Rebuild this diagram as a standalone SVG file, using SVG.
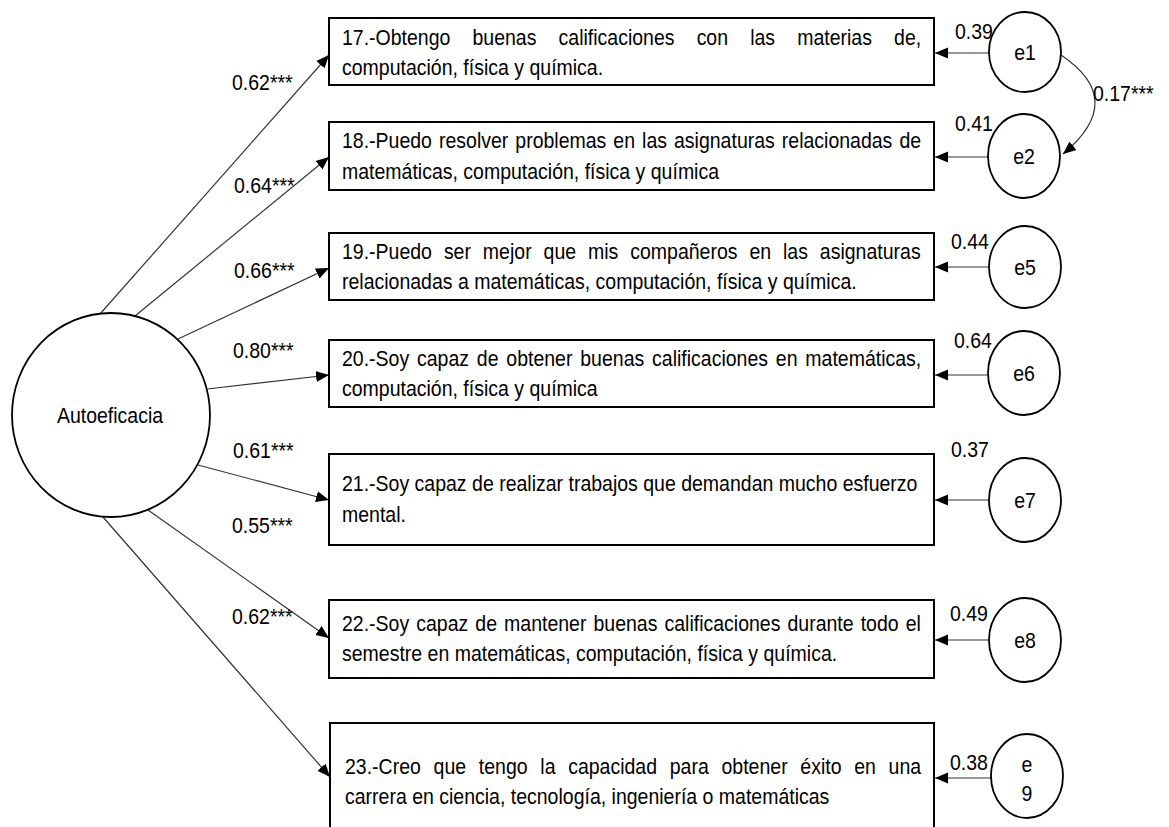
<svg xmlns="http://www.w3.org/2000/svg" width="1169" height="827" viewBox="0 0 1169 827">
<style>
text{font-family:"Liberation Sans",Arial,sans-serif;font-size:22.5px;fill:#000}
.box{fill:#fff;stroke:#000;stroke-width:2}
.lat{fill:#fff;stroke:#000;stroke-width:1.8}
.c{text-anchor:middle}
.con path,.con line{fill:none;stroke:#333;stroke-width:1.2}
</style>
<defs>
<marker id="ah" markerUnits="userSpaceOnUse" markerWidth="14" markerHeight="12" refX="13" refY="6" orient="auto">
<path d="M0,0.5 L13,6 L0,11.5 z" fill="#000"/>
</marker>
</defs>
<rect width="1169" height="827" fill="#fff"/>

<g id="connectors" class="con">
<line x1="100" y1="314" x2="329" y2="55" marker-end="url(#ah)"/>
<line x1="135" y1="316" x2="329" y2="157" marker-end="url(#ah)"/>
<line x1="178" y1="339" x2="329" y2="268" marker-end="url(#ah)"/>
<line x1="207" y1="389" x2="329" y2="375" marker-end="url(#ah)"/>
<line x1="198" y1="465" x2="329" y2="500" marker-end="url(#ah)"/>
<line x1="148" y1="510" x2="329" y2="638" marker-end="url(#ah)"/>
<line x1="103" y1="517" x2="330" y2="777" marker-end="url(#ah)"/>
<line x1="989" y1="53" x2="935" y2="53" marker-end="url(#ah)"/>
<line x1="988" y1="157" x2="935" y2="157" marker-end="url(#ah)"/>
<line x1="989" y1="267" x2="935" y2="267" marker-end="url(#ah)"/>
<line x1="988" y1="375" x2="935" y2="375" marker-end="url(#ah)"/>
<line x1="989" y1="500" x2="935" y2="500" marker-end="url(#ah)"/>
<line x1="989" y1="640" x2="935" y2="640" marker-end="url(#ah)"/>
<line x1="991" y1="778" x2="935" y2="778" marker-end="url(#ah)"/>
<path d="M1061,55 Q1128,100 1063,154" marker-end="url(#ah)"/>
<text transform="translate(1093,101) scale(0.8667,1)">0.17***</text>
<text transform="translate(232,90) scale(0.8667,1)">0.62***</text>
<text transform="translate(234,193) scale(0.8667,1)">0.64***</text>
<text transform="translate(234,278) scale(0.8667,1)">0.66***</text>
<text transform="translate(233,358) scale(0.8667,1)">0.80***</text>
<text transform="translate(233,458) scale(0.8667,1)">0.61***</text>
<text transform="translate(232,533) scale(0.8667,1)">0.55***</text>
<text transform="translate(232,624) scale(0.8667,1)">0.62***</text>
<text transform="translate(955,39) scale(0.8667,1)">0.39</text>
<text transform="translate(955,131) scale(0.8667,1)">0.41</text>
<text transform="translate(951,249) scale(0.8667,1)">0.44</text>
<text transform="translate(954,348) scale(0.8667,1)">0.64</text>
<text transform="translate(951,457) scale(0.8667,1)">0.37</text>
<text transform="translate(950,621) scale(0.8667,1)">0.49</text>
<text transform="translate(950,770) scale(0.8667,1)">0.38</text>
</g>

<g id="autoeficacia">
<ellipse class="lat" cx="111" cy="415" rx="99" ry="102"/>
<text class="c" transform="translate(110,423) scale(0.8667,1)">Autoeficacia</text>
</g>

<g id="item17">
<rect class="box" x="329" y="18" width="605" height="67"/>
<g transform="translate(342,0) scale(0.8667,1)">
<text x="0" y="45" style="word-spacing:19.27px">17.-Obtengo buenas calificaciones con las materias de,</text>
<text x="0" y="75">computación, física y química.</text>
</g>
</g>
<g id="item18">
<rect class="box" x="329" y="122" width="605" height="68"/>
<g transform="translate(342,0) scale(0.8667,1)">
<text x="0" y="148" style="word-spacing:1.85px">18.-Puedo resolver problemas en las asignaturas relacionadas de</text>
<text x="0" y="179">matemáticas, computación, física y química</text>
</g>
</g>
<g id="item19">
<rect class="box" x="329" y="233" width="605" height="67"/>
<g transform="translate(342,0) scale(0.8667,1)">
<text x="0" y="259" style="word-spacing:7.5px">19.-Puedo ser mejor que mis compañeros en las asignaturas</text>
<text x="0" y="289">relacionadas a matemáticas, computación, física y química.</text>
</g>
</g>
<g id="item20">
<rect class="box" x="329" y="340" width="605" height="67"/>
<g transform="translate(342,0) scale(0.8667,1)">
<text x="0" y="366" style="word-spacing:2.77px">20.-Soy capaz de obtener buenas calificaciones en matemáticas,</text>
<text x="0" y="396">computación, física y química</text>
</g>
</g>
<g id="item21">
<rect class="box" x="329" y="454" width="605" height="91"/>
<g transform="translate(342,0) scale(0.8667,1)">
<text x="0" y="491">21.-Soy capaz de realizar trabajos que demandan mucho esfuerzo</text>
<text x="0" y="522">mental.</text>
</g>
</g>
<g id="item22">
<rect class="box" x="329" y="600" width="605" height="78"/>
<g transform="translate(342,0) scale(0.8667,1)">
<text x="0" y="631" style="word-spacing:1.9px">22.-Soy capaz de mantener buenas calificaciones durante todo el</text>
<text x="0" y="661">semestre en matemáticas, computación, física y química.</text>
</g>
</g>
<g id="item23">
<rect class="box" x="330" y="723" width="604" height="130"/>
<g transform="translate(345,0) scale(0.8667,1)">
<text x="0" y="774" style="word-spacing:8.42px">23.-Creo que tengo la capacidad para obtener éxito en una</text>
<text x="0" y="804">carrera en ciencia, tecnología, ingeniería o matemáticas</text>
</g>
</g>

<g id="e1"><ellipse class="lat" cx="1025" cy="52" rx="36" ry="40"/><text class="c" transform="translate(1025,60) scale(0.8667,1)">e1</text></g>
<g id="e2"><ellipse class="lat" cx="1024" cy="156" rx="36" ry="42"/><text class="c" transform="translate(1024,164) scale(0.8667,1)">e2</text></g>
<g id="e5"><ellipse class="lat" cx="1025" cy="267" rx="36" ry="41"/><text class="c" transform="translate(1025,275) scale(0.8667,1)">e5</text></g>
<g id="e6"><ellipse class="lat" cx="1024" cy="373" rx="36" ry="42"/><text class="c" transform="translate(1024,381) scale(0.8667,1)">e6</text></g>
<g id="e7"><ellipse class="lat" cx="1025" cy="500" rx="36" ry="42"/><text class="c" transform="translate(1025,508) scale(0.8667,1)">e7</text></g>
<g id="e8"><ellipse class="lat" cx="1025" cy="640" rx="36" ry="42"/><text class="c" transform="translate(1025,648) scale(0.8667,1)">e8</text></g>
<g id="e9"><ellipse class="lat" cx="1027" cy="776" rx="36" ry="42"/><text class="c" transform="translate(1027,772) scale(0.8667,1)">e</text><text class="c" transform="translate(1027,801) scale(0.8667,1)">9</text></g>
</svg>
